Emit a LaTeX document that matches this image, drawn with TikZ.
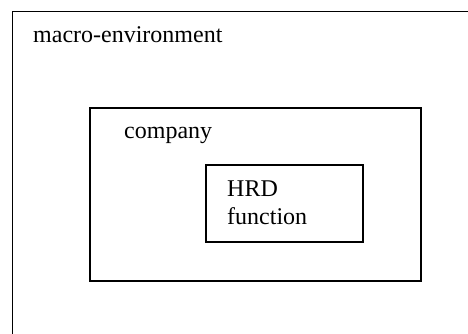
\documentclass[tikz,border=0pt]{standalone}
\usepackage{fontspec}
\setmainfont{Liberation Serif}
\usetikzlibrary{positioning}

\tikzset{
  box/.style={draw, rectangle, inner sep=0pt, anchor=north west},
  lbl/.style={inner sep=0pt, anchor=base west, font=\fontsize{24pt}{28pt}\selectfont},
}

\begin{document}
\begin{tikzpicture}[x=1pt, y=1pt]
  \useasboundingbox (0,0) rectangle (468,334);
  \clip (0,0) rectangle (468,334);

  % nested boxes
  \node[box, line width=1.2pt, minimum width=480pt, minimum height=340pt] (macro) at (12,323) {};
  \node[box, line width=1.6pt, minimum width=331pt, minimum height=173pt] (company) at (89,227) {};
  \node[box, line width=1.7pt, minimum width=157pt, minimum height=77pt] (hrd) at (205,170) {};

  % labels
  \node[lbl] (macrotxt) at ([shift={(21pt,-32pt)}]macro.north west) {macro-environment};
  \node[lbl] (companytxt) at ([shift={(35pt,-32pt)}]company.north west) {company};
  \node[lbl] (hrdtxt) at ([shift={(22pt,-33pt)}]hrd.north west) {HRD};
  \node[lbl] (fntxt) at ([yshift=-28pt]hrdtxt.base west) {function}; %{HRD function};
\end{tikzpicture}
\end{document}
